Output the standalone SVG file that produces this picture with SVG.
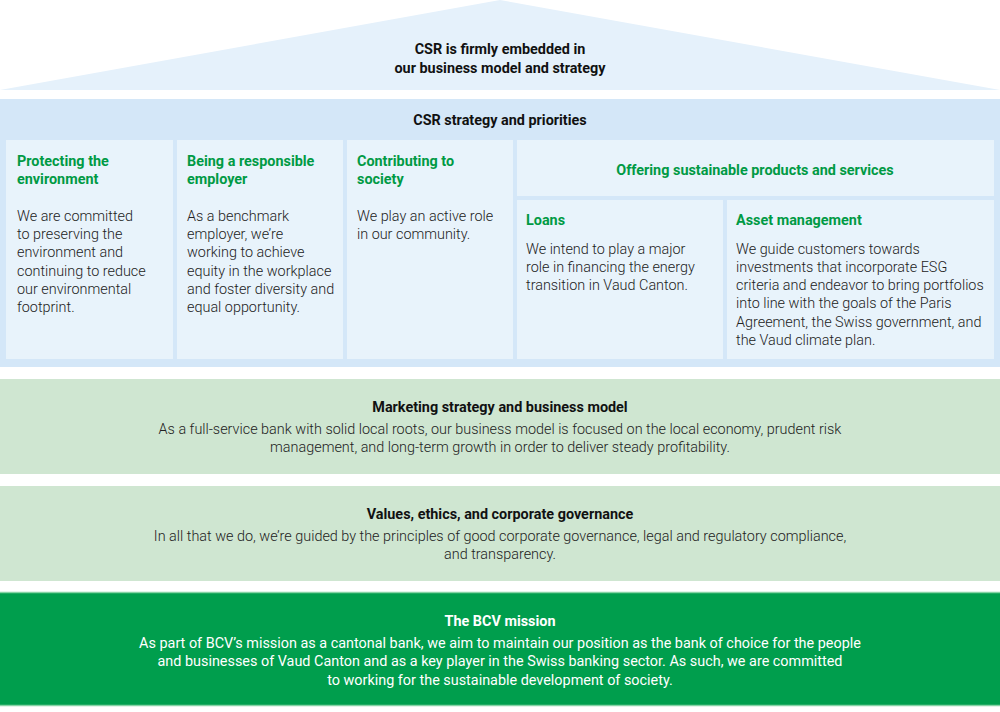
<svg xmlns="http://www.w3.org/2000/svg" width="1000" height="712" viewBox="0 0 1000 712">
<style>
text{font-family:Roboto,"Liberation Sans",sans-serif;font-size:14.4px}
.h{font-weight:700;fill:#111}
.g{font-weight:700;fill:#009a44}
.b{font-weight:300;fill:#222}
.c{text-anchor:middle}
.w{fill:#fff}
.cell{fill:#e8f3fb}
.lg{fill:#cfe6d1}
</style>
<rect width="1000" height="712" fill="#fff"/>
<g id="roof">
<polygon points="0,90 500,0 1000,90" fill="#e5f1fb"/>
<text class="h c" x="500" y="54">CSR is firmly embedded in</text>
<text class="h c" x="500" y="73">our business model and strategy</text>
</g>
<g id="csr-strategy">
<rect x="0" y="99" width="1000" height="268" fill="#d4e7f8"/>
<text class="h c" x="500" y="125">CSR strategy and priorities</text>
</g>
<g id="protecting">
<rect class="cell" x="6" y="140" width="167" height="219"/>
<text class="g" x="17" y="166">Protecting the</text>
<text class="g" x="17" y="184">environment</text>
<text class="b" x="17" y="221">We are committed</text>
<text class="b" x="17" y="239">to preserving the</text>
<text class="b" x="17" y="257">environment and</text>
<text class="b" x="17" y="276">continuing to reduce</text>
<text class="b" x="17" y="294">our environmental</text>
<text class="b" x="17" y="312">footprint.</text>
</g>
<g id="employer">
<rect class="cell" x="177" y="140" width="166" height="219"/>
<text class="g" x="187" y="166">Being a responsible</text>
<text class="g" x="187" y="184">employer</text>
<text class="b" x="187" y="221">As a benchmark</text>
<text class="b" x="187" y="239">employer, we’re</text>
<text class="b" x="187" y="257">working to achieve</text>
<text class="b" x="187" y="276">equity in the workplace</text>
<text class="b" x="187" y="294">and foster diversity and</text>
<text class="b" x="187" y="312">equal opportunity.</text>
</g>
<g id="society">
<rect class="cell" x="347" y="140" width="166" height="219"/>
<text class="g" x="357" y="166">Contributing to</text>
<text class="g" x="357" y="184">society</text>
<text class="b" x="357" y="221">We play an active role</text>
<text class="b" x="357" y="239">in our community.</text>
</g>
<g id="offering">
<rect class="cell" x="517" y="140" width="477" height="56"/>
<text class="g c" x="755" y="175">Offering sustainable products and services</text>
</g>
<g id="loans">
<rect class="cell" x="517" y="200" width="206" height="159"/>
<text class="g" x="526" y="225">Loans</text>
<text class="b" x="526" y="254">We intend to play a major</text>
<text class="b" x="526" y="272">role in financing the energy</text>
<text class="b" x="526" y="290">transition in Vaud Canton.</text>
</g>
<g id="asset">
<rect class="cell" x="727" y="200" width="267" height="159"/>
<text class="g" x="736" y="225">Asset management</text>
<text class="b" x="736" y="254">We guide customers towards</text>
<text class="b" x="736" y="272">investments that incorporate ESG</text>
<text class="b" x="736" y="290">criteria and endeavor to bring portfolios</text>
<text class="b" x="736" y="308">into line with the goals of the Paris</text>
<text class="b" x="736" y="327">Agreement, the Swiss government, and</text>
<text class="b" x="736" y="345">the Vaud climate plan.</text>
</g>
<g id="marketing">
<rect class="lg" x="0" y="379" width="1000" height="95"/>
<text class="h c" x="500" y="412">Marketing strategy and business model</text>
<text class="b c" x="500" y="434">As a full-service bank with solid local roots, our business model is focused on the local economy, prudent risk</text>
<text class="b c" x="500" y="452">management, and long-term growth in order to deliver steady profitability.</text>
</g>
<g id="values">
<rect class="lg" x="0" y="486" width="1000" height="95"/>
<text class="h c" x="500" y="519">Values, ethics, and corporate governance</text>
<text class="b c" x="500" y="541">In all that we do, we’re guided by the principles of good corporate governance, legal and regulatory compliance,</text>
<text class="b c" x="500" y="559">and transparency.</text>
</g>
<g id="mission">
<rect x="-2" y="592.5" width="1004" height="113" fill="#009e4d" stroke="#86d3a5" stroke-width="1.5"/>
<text class="h c w" x="500" y="626">The BCV mission</text>
<text class="w c" x="500" y="648">As part of BCV’s mission as a cantonal bank, we aim to maintain our position as the bank of choice for the people</text>
<text class="w c" x="500" y="666">and businesses of Vaud Canton and as a key player in the Swiss banking sector. As such, we are committed</text>
<text class="w c" x="500" y="685">to working for the sustainable development of society.</text>
</g>
<g id="connectors"/>
</svg>
